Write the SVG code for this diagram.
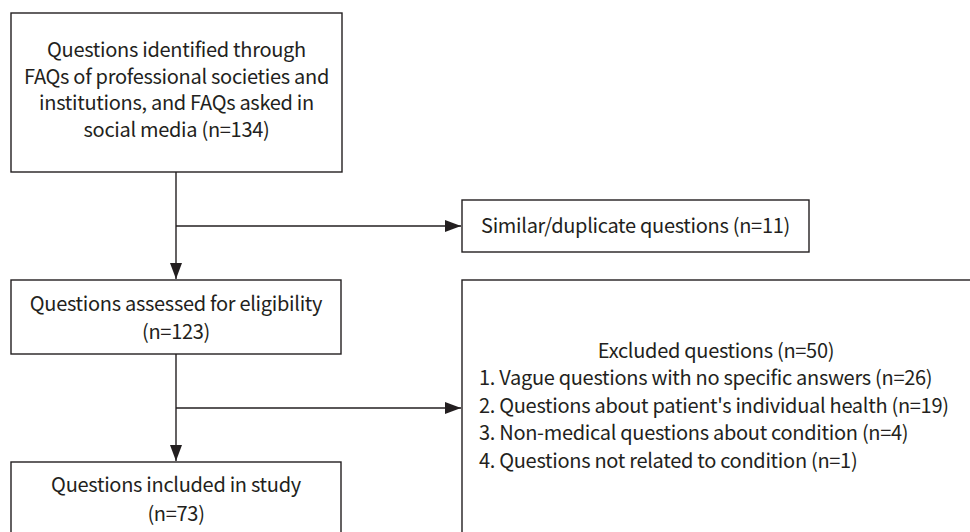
<svg xmlns="http://www.w3.org/2000/svg" width="970" height="532" viewBox="0 0 970 532">
<style>
.box{fill:#fff;stroke:#231f20;stroke-width:1.4}
.ln{fill:none;stroke:#231f20;stroke-width:1.4}
text{font-family:"Noto Sans CJK JP","Source Sans Pro","Liberation Sans",sans-serif;font-size:20px;letter-spacing:-0.3px;fill:#231f20}
.c{text-anchor:middle}
</style>
<defs>
<marker id="ah" markerUnits="userSpaceOnUse" markerWidth="18" markerHeight="14" refX="16" refY="6" orient="auto">
<path d="M0,0 L16,6 L0,12 Z" fill="#231f20"/>
</marker>
</defs>
<rect width="970" height="532" fill="#fff"/>
<g id="connectors">
<line class="ln" x1="176" y1="172" x2="176" y2="279" marker-end="url(#ah)"/>
<line class="ln" x1="176" y1="226" x2="461" y2="226" marker-end="url(#ah)"/>
<line class="ln" x1="176" y1="354" x2="176" y2="461" marker-end="url(#ah)"/>
<line class="ln" x1="176" y1="408" x2="461" y2="408" marker-end="url(#ah)"/>
</g>
<g id="identified">
<rect class="box" x="11" y="13" width="331" height="159"/>
<text class="c" x="176.5" y="57">Questions identified through</text>
<text class="c" x="176.5" y="84">FAQs of professional societies and</text>
<text class="c" x="176.5" y="110">institutions, and FAQs asked in</text>
<text class="c" x="176.5" y="137">social media (n=134)</text>
</g>
<g id="duplicates">
<rect class="box" x="462" y="200" width="347" height="52"/>
<text class="c" x="635.5" y="233">Similar/duplicate questions (n=11)</text>
</g>
<g id="assessed">
<rect class="box" x="11" y="280" width="330" height="74"/>
<text class="c" x="176" y="311">Questions assessed for eligibility</text>
<text class="c" x="176" y="339">(n=123)</text>
</g>
<g id="excluded">
<rect class="box" x="462" y="280" width="520" height="270"/>
<text class="c" x="716" y="358">Excluded questions (n=50)</text>
<text x="479" y="385">1. Vague questions with no specific answers (n=26)</text>
<text x="479" y="413">2. Questions about patient's individual health (n=19)</text>
<text x="479" y="440">3. Non-medical questions about condition (n=4)</text>
<text x="479" y="468">4. Questions not related to condition (n=1)</text>
</g>
<g id="included">
<rect class="box" x="11" y="462" width="330" height="90"/>
<text class="c" x="176" y="492">Questions included in study</text>
<text class="c" x="176" y="521">(n=73)</text>
</g>
</svg>
